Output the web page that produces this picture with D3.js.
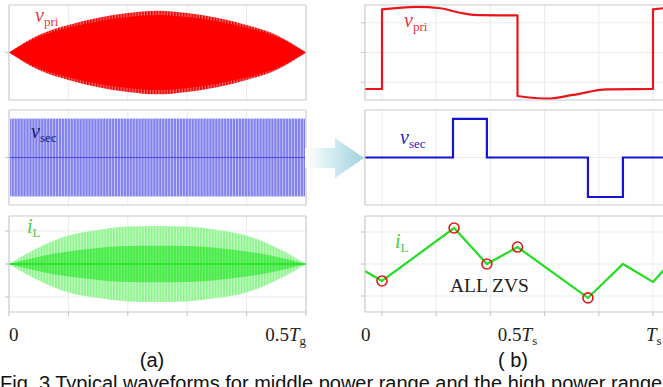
<!DOCTYPE html>
<html><head><meta charset="utf-8">
<script src="https://cdn.jsdelivr.net/npm/d3@7"></script>
<style>body{margin:0;background:#fff;overflow:hidden}</style>
</head><body><svg id="c" width="663" height="387" xmlns="http://www.w3.org/2000/svg"></svg>
<script>
// ---------- DATA ----------
// (a) one half grid period, time in Tg
const leftTime = [0,0.05,0.1,0.15,0.2,0.25,0.3,0.35,0.4,0.45,0.5];
const vpriEnvelope = [0,0.37,0.58,0.73,0.83,0.88,0.83,0.73,0.58,0.37,0];
const vsecAmplitude = [0.82];
const iLOuterEnvelope = [0,0.5,0.86,1.03,1.13,1.15,1.13,1.03,0.86,0.5,0];
const iLInnerEnvelope = [0,0.22,0.38,0.48,0.54,0.55,0.54,0.48,0.38,0.22,0];
const leftTicks = [0,0.1,0.2,0.3,0.4,0.5];

// (b) one switching period, time in Ts
const vpriTime  = [-0.063,0,   0,    0.129,0.214,0.288,0.336,0.5,  0.5,   0.609, 0.705,0.83, 1.0,  1.0,  1.037];
const vpriValue = [-1.23,-1.23,1.455,1.54, 1.49, 1.34, 1.27, 1.25,-1.465,-1.556,-1.43,-1.24,-1.23,1.455,1.49];
const vsecTime  = [-0.063,0.262,0.387,0.760,0.889,1.037];
const vsecValue = [0,     1.3,  0,    -1.33,0,    0];
const iLTime    = [-0.063,0,    0.266,0.387,0.5, 0.76, 0.889,1.0,  1.04];
const iLValue   = [-0.22,-0.53, 1.125,0,    0.53,-1.06,0,   -0.56,-0.19];
const zvsIndex  = [1,2,3,4,5];
const rightTicks = [0,0.2,0.4,0.6,0.8,1.0];
const rightTickLabels = [{t:-0.06,main:"0"},{t:0.5,main:"0.5",it:"T",sub:"s"},{t:1.0,main:"",it:"T",sub:"s"}];

// ---------- LAYOUT ----------
const svg = d3.select("#c");
const defs = svg.append("defs");
const serif = "'Liberation Serif','Times New Roman',serif";
const sans = "'Liberation Sans',Arial,sans-serif";
const gridC = "#ebebeb", borderC = "#c9c9c9";

function stripes(id, bg, fg, w, period){
  const p = defs.append("pattern").attr("id",id).attr("patternUnits","userSpaceOnUse")
    .attr("width",period).attr("height",10);
  p.append("rect").attr("width",period).attr("height",10).attr("fill",bg);
  p.append("rect").attr("width",w).attr("height",10).attr("fill",fg);
}
stripes("redS","#ff7070","#e80000",1.6,2.9);
stripes("blueS","#d0d0fa","#8080f0",2.1,2.95);
stripes("grnO","#c8f9c8","#8af48a",1.7,2.9);
stripes("grnI","#72f272","#45ea45",1.7,2.9);

const xL = d3.scaleLinear([0,0.5],[9,306]);
const xR = d3.scaleLinear([0,1],[382,653]);
const panelsL = [{y0:5,y1:100,d:1,ticks:[0]},{y0:110,y1:205,d:1,ticks:[0]},{y0:216,y1:312,d:1.45,ticks:[-1,0,1]}];
const panelsR = [{y0:5,y1:100,d:1.6,ticks:[-1,0,1]},{y0:110,y1:205,d:1.6,ticks:[0]},{y0:216,y1:312,d:1.5,ticks:[-1,0,1]}];
panelsL.forEach(p=>p.y=d3.scaleLinear([-p.d,p.d],[p.y1,p.y0]));
panelsR.forEach(p=>p.y=d3.scaleLinear([-p.d,p.d],[p.y1,p.y0]));

function frame(p, x, x0, x1, gridT){
  const g = svg.append("g");
  g.selectAll(".gv").data(gridT).join("line").attr("x1",d=>x(d)).attr("x2",d=>x(d))
    .attr("y1",p.y0).attr("y2",p.y1).attr("stroke",gridC).attr("stroke-width",1);
  g.selectAll(".gh").data(p.ticks).join("line").attr("x1",x0).attr("x2",x1)
    .attr("y1",d=>p.y(d)).attr("y2",d=>p.y(d)).attr("stroke",gridC).attr("stroke-width",1);
  return g;
}
function border(p, x0, x1, right){
  const g = svg.append("g").attr("fill","none").attr("stroke",borderC).attr("stroke-width",1.2);
  g.append("line").attr("x1",x0).attr("x2",x1).attr("y1",p.y0).attr("y2",p.y0);
  g.append("line").attr("x1",x0).attr("x2",x1).attr("y1",p.y1).attr("y2",p.y1);
  g.append("line").attr("x1",x0).attr("x2",x0).attr("y1",p.y0).attr("y2",p.y1);
  if(right) g.append("line").attr("x1",x1).attr("x2",x1).attr("y1",p.y0).attr("y2",p.y1);
  g.selectAll(".tk").data(p.ticks).join("line").attr("x1",x0-4).attr("x2",x0)
    .attr("y1",d=>p.y(d)).attr("y2",d=>p.y(d));
}
function label(x,y,it,sub,color){
  const t = svg.append("text").attr("x",x).attr("y",y).attr("font-family",serif).attr("fill",color).attr("font-size",20);
  t.append("tspan").attr("font-style","italic").text(it);
  t.append("tspan").attr("font-size",13).attr("dy",4).text(sub);
}

// ---------- (a) ----------
const lx0 = xL(0), lx1 = xL(0.5);
const inner = [0.1,0.2,0.3,0.4];
panelsL.forEach(p=>frame(p,xL,lx0,lx1,inner));
const pts = leftTime.map((t,i)=>i);
{
  const p = panelsL[0];
  const a = d3.area().x(i=>xL(leftTime[i])).y0(i=>p.y(-vpriEnvelope[i])).y1(i=>p.y(vpriEnvelope[i])).curve(d3.curveMonotoneX);
  svg.append("path").attr("d",a(pts)).attr("fill","url(#redS)");
  const a2 = d3.area().x(i=>xL(leftTime[i])).y0(i=>p.y(-vpriEnvelope[i]*0.9)).y1(i=>p.y(vpriEnvelope[i]*0.9)).curve(d3.curveMonotoneX);
  svg.append("path").attr("d",a2(pts)).attr("fill","#ff0000");
}
{
  const p = panelsL[1];
  svg.append("rect").attr("x",lx0+1).attr("width",lx1-lx0-2).attr("y",p.y(vsecAmplitude[0]))
    .attr("height",p.y(-vsecAmplitude[0])-p.y(vsecAmplitude[0])).attr("fill","url(#blueS)");
  svg.append("line").attr("x1",lx0).attr("x2",lx1).attr("y1",p.y(0)).attr("y2",p.y(0)).attr("stroke","#4a4ae0").attr("stroke-width",1.2);
}
{
  const p = panelsL[2];
  const a = d3.area().x(i=>xL(leftTime[i])).y0(i=>p.y(-iLOuterEnvelope[i])).y1(i=>p.y(iLOuterEnvelope[i])).curve(d3.curveMonotoneX);
  svg.append("path").attr("d",a(pts)).attr("fill","url(#grnO)");
  const a2 = d3.area().x(i=>xL(leftTime[i])).y0(i=>p.y(-iLInnerEnvelope[i])).y1(i=>p.y(iLInnerEnvelope[i])).curve(d3.curveMonotoneX);
  svg.append("path").attr("d",a2(pts)).attr("fill","url(#grnI)");
  svg.append("line").attr("x1",lx0).attr("x2",lx1).attr("y1",p.y(0)).attr("y2",p.y(0)).attr("stroke","#22e022").attr("stroke-width",1.5);
}
panelsL.forEach(p=>border(p,lx0,lx1,true));
svg.append("g").selectAll("line").data(leftTicks).join("line")
  .attr("x1",d=>xL(d)).attr("x2",d=>xL(d)).attr("y1",panelsL[2].y1).attr("y2",panelsL[2].y1+4)
  .attr("stroke",borderC).attr("stroke-width",1.2);

label(35,22,"v","pri","#e8403a");
label(31,138,"v","sec","#1c1c66");
label(27,233,"i","L","#44cc44");

{
  svg.append("text").attr("x",xL(0)).attr("y",341).attr("font-family",serif).attr("font-size",19).attr("fill","#222").text("0");
  const t1 = svg.append("text").attr("x",xL(0.5)).attr("y",341).attr("text-anchor","end").attr("font-family",serif).attr("font-size",19).attr("fill","#222");
  t1.append("tspan").text("0.5");
  t1.append("tspan").attr("font-style","italic").text("T");
  t1.append("tspan").attr("font-size",13).attr("dy",4).text("g");
}

// ---------- (b) ----------
const rx0 = xR(-0.063), rx1 = 700;
panelsR.forEach(p=>frame(p,xR,rx0,rx1,rightTicks));
{
  const p = panelsR[0];
  const segs = []; let cur = [0];
  for(let i=1;i<vpriTime.length;i++){ if(vpriTime[i]===vpriTime[i-1]){segs.push(cur);cur=[i];} else cur.push(i); }
  segs.push(cur);
  const ln = d3.line().x(i=>xR(vpriTime[i])).y(i=>p.y(vpriValue[i])).curve(d3.curveMonotoneX);
  let d = "";
  segs.forEach((s,k)=>{ let sd = ln(s); if(k>0) sd = "L"+sd.slice(1); d += sd; });
  svg.append("path").attr("d",d).attr("fill","none").attr("stroke","#e8161b").attr("stroke-width",2.2).attr("stroke-linejoin","round");
}
{
  const p = panelsR[1];
  const ln = d3.line().x(t=>xR(t)).y((t,i)=>p.y(vsecValue[i])).curve(d3.curveStepAfter);
  svg.append("path").attr("d",ln(vsecTime)).attr("fill","none").attr("stroke","#1414d2").attr("stroke-width",2.2);
}
{
  const p = panelsR[2];
  const ln = d3.line().x(t=>xR(t)).y((t,i)=>p.y(iLValue[i]));
  svg.append("path").attr("d",ln(iLTime)).attr("fill","none").attr("stroke","#22dd22").attr("stroke-width",2.2);
  svg.append("g").selectAll("circle").data(zvsIndex).join("circle")
    .attr("cx",i=>xR(iLTime[i])).attr("cy",i=>p.y(iLValue[i])).attr("r",5)
    .attr("fill","none").attr("stroke","#e01818").attr("stroke-width",1.6);
}
panelsR.forEach(p=>border(p,rx0,rx1,false));
svg.append("g").selectAll("line").data(rightTicks).join("line")
  .attr("x1",d=>xR(d)).attr("x2",d=>xR(d)).attr("y1",panelsR[2].y1).attr("y2",panelsR[2].y1+4)
  .attr("stroke",borderC).attr("stroke-width",1.2);

label(404,27,"v","pri","#e8303a");
label(400,144,"v","sec","#2222c4");
label(395,248,"i","L","#44cc44");
svg.append("text").attr("x",450).attr("y",292).attr("font-family",serif).attr("font-size",19.5).attr("fill","#222").text("ALL ZVS");

rightTickLabels.forEach(l=>{
  const t = svg.append("text").attr("x",xR(l.t)).attr("y",341).attr("text-anchor",l.t===1?"start":"middle")
    .attr("font-family",serif).attr("font-size",19).attr("fill","#222");
  if(l.t===1) t.attr("x",xR(l.t)-7);
  if(l.main) t.append("tspan").text(l.main);
  if(l.it){ t.append("tspan").attr("font-style","italic").text(l.it); t.append("tspan").attr("font-size",13).attr("dy",4).text(l.sub); }
});

// ---------- arrow ----------
{
  const gr = defs.append("linearGradient").attr("id","arrG").attr("x1","0").attr("x2","1").attr("y1","0").attr("y2","0");
  gr.append("stop").attr("offset","0").attr("stop-color","#ffffff");
  gr.append("stop").attr("offset","0.5").attr("stop-color","#cfe9f0");
  gr.append("stop").attr("offset","1").attr("stop-color","#9fd2df");
  svg.append("path").attr("d","M305,148L335,148L335,138L364,158L335,178L335,168L305,168Z").attr("fill","url(#arrG)");
}

// ---------- captions ----------
svg.append("text").attr("x",152).attr("y",367).attr("text-anchor","middle").attr("font-family",sans).attr("font-size",20).attr("fill","#111").text("(a)");
svg.append("text").attr("x",513).attr("y",367).attr("text-anchor","middle").attr("font-family",sans).attr("font-size",20).attr("fill","#111").text("( b)");
svg.append("text").attr("x",0).attr("y",390).attr("font-family",sans).attr("font-size",20).attr("fill","#111").text("Fig. 3 Typical waveforms for middle power range and the high power range");
</script></body></html>
